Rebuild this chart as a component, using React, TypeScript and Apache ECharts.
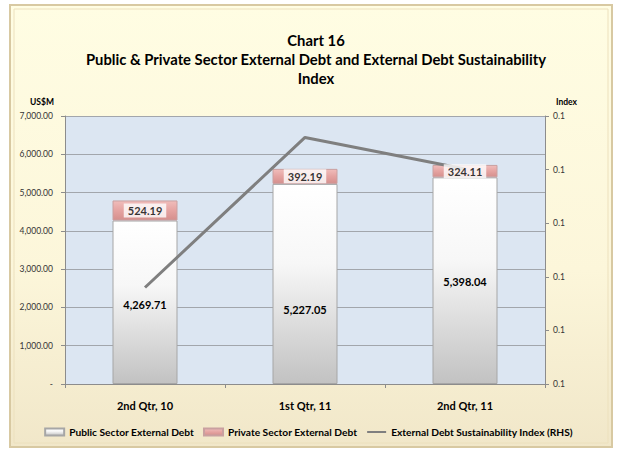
import React, { useEffect, useRef } from 'react';
import * as echarts from 'echarts';

const categories = ['2nd Qtr, 10', '1st Qtr, 11', '2nd Qtr, 11'];
const publicDebt = [4269.71, 5227.05, 5398.04];
const privateDebt = [524.19, 392.19, 324.11];
const sustainabilityIndex = [0.098, 0.126, 0.1201];
const leftAxis = { min: 0, max: 7000, interval: 1000 };
const rightAxis = { min: 0.08, max: 0.13, interval: 0.01 };
const seriesNames = [
  'Public Sector External Debt',
  'Private Sector External Debt',
  'External Debt Sustainability Index (RHS)',
];
const titleLines = [
  'Chart 16',
  'Public & Private Sector External Debt and External Debt Sustainability',
  'Index',
];

const FONT = 'Lato, "Open Sans", sans-serif';

export default function App() {
  const ref = useRef<HTMLDivElement>(null);
  useEffect(() => {
    const chart = echarts.init(ref.current!, null, { renderer: 'svg' });
    const fmtLeft = (v: number) =>
      v === 0
        ? '-'
        : v.toLocaleString('en-US', { minimumFractionDigits: 2, maximumFractionDigits: 2 });
    const publicOffsets = [2, 26, 1];

    const option: any = {
      animation: false,
      textStyle: { fontFamily: FONT },
      graphic: [
        {
          type: 'rect',
          z: -10,
          silent: true,
          shape: { x: 10, y: 5, width: 602, height: 442 },
          style: {
            fill: new echarts.graphic.LinearGradient(0, 0, 0, 1, [
              { offset: 0, color: '#fffde3' },
              { offset: 0.6, color: '#fcf6da' },
              { offset: 1, color: '#f1e7c9' },
            ]),
            stroke: '#d8c9a2',
            lineWidth: 2,
          },
        },
        {
          type: 'rect',
          z: -9,
          silent: true,
          shape: { x: 14, y: 9, width: 594, height: 434 },
          style: { fill: 'none', stroke: '#ece0bd', lineWidth: 1 },
        },
        ...titleLines.map((t, i) => ({
          type: 'text',
          x: 316,
          y: 40 + i * 19,
          style: {
            text: t,
            textAlign: 'center',
            textVerticalAlign: 'middle',
            font: `bold 14.8px ${FONT}`,
            fill: '#000',
          },
        })),
        {
          type: 'text',
          x: 30,
          y: 102,
          style: { text: 'US$M', textVerticalAlign: 'middle', font: `bold 8.5px ${FONT}`, fill: '#000' },
        },
        {
          type: 'text',
          x: 577,
          y: 102,
          style: {
            text: 'Index',
            textAlign: 'right',
            textVerticalAlign: 'middle',
            font: `bold 8.5px ${FONT}`,
            fill: '#000',
          },
        },
      ],
      grid: {
        left: 65,
        right: 72,
        top: 116,
        bottom: 65,
        show: true,
        backgroundColor: '#dce6f2',
        borderWidth: 0,
        outerBoundsMode: 'none',
      },
      legend: {
        bottom: 7,
        left: 'center',
        itemWidth: 19,
        itemHeight: 7,
        itemGap: 9,
        textStyle: { fontFamily: FONT, fontWeight: 'bold', fontSize: 10.2, color: '#000' },
        data: [
          { name: seriesNames[0], icon: 'rect' },
          { name: seriesNames[1], icon: 'rect' },
          {
            name: seriesNames[2],
            itemStyle: { color: 'transparent', borderWidth: 0, opacity: 0 },
            lineStyle: { color: '#7f7f7f', width: 2 },
          },
        ],
      },
      xAxis: {
        type: 'category',
        data: categories,
        axisLine: { show: true, lineStyle: { color: '#8c8c8c', width: 1 } },
        axisTick: { show: true, length: 4, lineStyle: { color: '#8c8c8c' } },
        axisLabel: { fontFamily: FONT, fontWeight: 'bold', fontSize: 11, color: '#000', margin: 16 },
      },
      yAxis: [
        {
          type: 'value',
          min: leftAxis.min,
          max: leftAxis.max,
          interval: leftAxis.interval,
          axisLine: { show: true, lineStyle: { color: '#8c8c8c' } },
          axisTick: { show: true, length: 4, lineStyle: { color: '#8c8c8c' } },
          axisLabel: { formatter: fmtLeft, fontFamily: FONT, fontSize: 8.5, color: '#333', margin: 12 },
          splitLine: { show: true, lineStyle: { color: '#a2a6ac', width: 1 } },
        },
        {
          type: 'value',
          position: 'right',
          min: rightAxis.min,
          max: rightAxis.max,
          interval: rightAxis.interval,
          axisLine: { show: true, lineStyle: { color: '#8c8c8c' } },
          axisTick: { show: true, length: 4, lineStyle: { color: '#8c8c8c' } },
          axisLabel: {
            formatter: (v: number) => v.toFixed(1),
            fontFamily: FONT,
            fontSize: 8.5,
            color: '#333',
            margin: 8,
          },
          splitLine: { show: false },
        },
      ],
      series: [
        {
          name: seriesNames[0],
          type: 'bar',
          stack: 'debt',
          barWidth: 65,
          itemStyle: {
            color: new echarts.graphic.LinearGradient(0, 0, 0, 1, [
              { offset: 0, color: '#ffffff' },
              { offset: 0.4, color: '#f7f7f7' },
              { offset: 1, color: '#c2c2c2' },
            ]),
            borderColor: '#a6a6a6',
            borderWidth: 1,
          },
          label: {
            show: true,
            position: 'inside',
            fontFamily: FONT,
            fontWeight: 'bold',
            fontSize: 11,
            color: '#000',
            formatter: (p: any) => fmtLeft(p.value),
          },
          data: publicDebt.map((v, i) => ({ value: v, label: { offset: [0, publicOffsets[i]] } })),
        },
        {
          name: seriesNames[1],
          type: 'bar',
          stack: 'debt',
          barWidth: 65,
          itemStyle: {
            color: new echarts.graphic.LinearGradient(0, 0, 0, 1, [
              { offset: 0, color: '#f0bdbb' },
              { offset: 0.5, color: '#e5a3a1' },
              { offset: 1, color: '#d58f8d' },
            ]),
            borderColor: '#c9a0a0',
            borderWidth: 1,
          },
          data: privateDebt,
        },
        {
          name: seriesNames[2],
          type: 'line',
          yAxisIndex: 1,
          symbol: 'none',
          color: '#7f7f7f',
          lineStyle: { color: '#7f7f7f', width: 3 },
          data: sustainabilityIndex,
        },
        {
          name: 'privateLabels',
          type: 'scatter',
          yAxisIndex: 0,
          z: 10,
          symbolSize: 0,
          silent: true,
          label: {
            show: true,
            position: 'inside',
            fontFamily: FONT,
            fontWeight: 'bold',
            fontSize: 11,
            color: '#000',
            backgroundColor: '#ffffff',
            padding: [2, 4, 1, 4],
            formatter: (p: any) => fmtLeft(privateDebt[p.dataIndex]),
          },
          data: privateDebt.map((v, i) => [i, publicDebt[i] + v / 2]),
        },
      ],
    };
    chart.setOption(option);
    return () => chart.dispose();
  }, []);
  return (
    <div
      ref={ref}
      style={{ position: 'absolute', left: 0, top: 0, width: 617, height: 449 }}
    />
  );
}
